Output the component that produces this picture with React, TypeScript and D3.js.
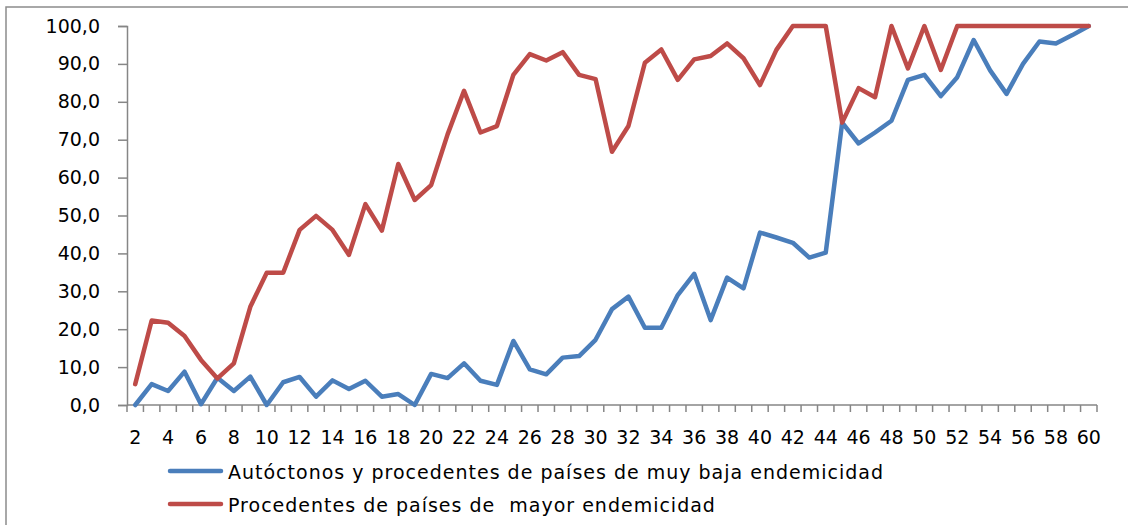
import { useEffect, useRef } from 'react'
import * as d3 from 'd3'

// --- DATA ---
const categories: number[] = d3.range(2, 61)

const lowEndemicity: number[] = [
  0, 5.5, 3.7, 8.8, 0.2, 7.2, 3.7, 7.5, 0, 6.0, 7.4, 2.2, 6.5, 4.2, 6.4, 2.2,
  2.9, 0, 8.2, 7.1, 11.0, 6.4, 5.3, 16.9, 9.4, 8.1, 12.5, 12.9, 17.2, 25.3,
  28.6, 20.4, 20.4, 29.0, 34.6, 22.4, 33.6, 30.8, 45.5, 44.2, 42.8, 38.9, 40.2,
  74.5, 69.0, 71.9, 75.0, 85.8, 87.1, 81.5, 86.5, 96.3, 88.3, 82.1, 90.0, 95.9,
  95.4, 97.6, 100,
]

const highEndemicity: number[] = [
  5.5, 22.3, 21.7, 18.2, 11.9, 7.0, 11.0, 25.9, 34.9, 34.9, 46.2, 49.9, 46.2,
  39.6, 53.0, 46.0, 63.6, 54.1, 58.0, 71.4, 82.9, 71.9, 73.6, 87.1, 92.6, 90.9,
  93.1, 87.1, 86.0, 66.8, 73.6, 90.3, 93.8, 85.8, 91.2, 92.1, 95.4, 91.5, 84.4,
  93.7, 100, 100, 100, 74.5, 83.6, 81.2, 100, 88.8, 100, 88.4, 100, 100, 100,
  100, 100, 100, 100, 100, 100,
]

const yTicks: number[] = [0, 10, 20, 30, 40, 50, 60, 70, 80, 90, 100]

const seriesNames: string[] = [
  'Autóctonos y procedentes de países de muy baja endemicidad',
  'Procedentes de países de  mayor endemicidad',
]

const seriesColors: string[] = ['#4A7EBB', '#BE4B48']

const AXIS_COLOR = '#868686'
const FONT = '"DejaVu Sans", sans-serif'

export default function App() {
  const svgRef = useRef<SVGSVGElement | null>(null)

  useEffect(() => {
    if (!svgRef.current) return
    const width = 1128
    const height = 525
    const plot = { left: 127, right: 1097, top: 26, bottom: 405 }

    const svg = d3.select<SVGSVGElement, unknown>(svgRef.current)
    svg.selectAll('*').remove()
    svg.attr('width', width).attr('height', height)

    // outer frame (runs off the picture on the right and bottom)
    svg
      .append('rect')
      .attr('x', 6)
      .attr('y', 7)
      .attr('width', width + 20)
      .attr('height', height + 20)
      .attr('fill', 'white')
      .attr('stroke', '#8c8c8c')
      .attr('stroke-width', 1.5)

    // --- SCALES ---
    const x = d3
      .scaleBand<number>()
      .domain(categories)
      .range([plot.left, plot.right])
      .paddingInner(0)
      .paddingOuter(0)

    const cx = (c: number) => (x(c) ?? 0) + x.bandwidth() / 2

    const y = d3.scaleLinear().domain([0, 100]).range([plot.bottom, plot.top])

    const locale = d3.formatLocale({
      decimal: ',',
      thousands: '.',
      grouping: [3],
      currency: ['', '€'],
    })
    const fmt = locale.format('.1f')

    // --- Y AXIS ---
    const yAxis = d3
      .axisLeft(y)
      .tickValues(yTicks)
      .tickFormat((d) => fmt(d as number))
      .tickSize(9)
      .tickPadding(18)
      .tickSizeOuter(9)

    const gy = svg
      .append('g')
      .attr('transform', `translate(${plot.left}, 0)`)
      .call(yAxis)
    gy.select('.domain').attr('stroke', AXIS_COLOR).attr('stroke-width', 1.5)
    gy.selectAll('.tick line').attr('stroke', AXIS_COLOR).attr('stroke-width', 1.5)
    gy.selectAll('.tick text')
      .attr('fill', '#000')
      .style('font-family', FONT)
      .style('font-size', '19px')

    // --- X AXIS ---
    const boundaries = [...categories.map((c) => x(c) ?? 0), plot.right]
    const gx = svg.append('g')
    gx.append('line')
      .attr('x1', plot.left)
      .attr('x2', plot.right)
      .attr('y1', plot.bottom)
      .attr('y2', plot.bottom)
      .attr('stroke', AXIS_COLOR)
      .attr('stroke-width', 1.5)
    gx.selectAll('.xtick')
      .data(boundaries)
      .enter()
      .append('line')
      .attr('x1', (d) => d)
      .attr('x2', (d) => d)
      .attr('y1', plot.bottom)
      .attr('y2', plot.bottom + 7)
      .attr('stroke', AXIS_COLOR)
      .attr('stroke-width', 1.5)
    gx.selectAll('.xlabel')
      .data(categories.filter((c) => c % 2 === 0))
      .enter()
      .append('text')
      .attr('x', (d) => cx(d))
      .attr('y', 444)
      .attr('text-anchor', 'middle')
      .style('font-family', FONT)
      .style('font-size', '19px')
      .text((d) => d)

    // --- LINES ---
    const line = d3
      .line<number>()
      .x((_, i) => cx(categories[i]))
      .y((v) => y(v))

    ;[lowEndemicity, highEndemicity].forEach((values, i) => {
      svg
        .append('path')
        .datum(values)
        .attr('fill', 'none')
        .attr('stroke', seriesColors[i])
        .attr('stroke-width', 4.5)
        .attr('stroke-linejoin', 'round')
        .attr('stroke-linecap', 'round')
        .attr('d', line)
    })

    // --- LEGEND ---
    const legendY = [471, 504]
    seriesNames.forEach((name, i) => {
      const ly = legendY[i]
      svg
        .append('line')
        .attr('x1', 170)
        .attr('x2', 221)
        .attr('y1', ly)
        .attr('y2', ly)
        .attr('stroke', seriesColors[i])
        .attr('stroke-width', 4.5)
        .attr('stroke-linecap', 'round')
      svg
        .append('text')
        .attr('x', 228)
        .attr('y', ly + 8)
        .attr('xml:space', 'preserve')
        .style('white-space', 'pre')
        .style('font-family', FONT)
        .style('font-size', '19px')
        .style('letter-spacing', '1px')
        .text(name)
    })
  }, [])

  return (
    <div style={{ position: 'absolute', left: 0, top: 0 }}>
      <svg ref={svgRef} style={{ display: 'block' }} />
    </div>
  )
}
